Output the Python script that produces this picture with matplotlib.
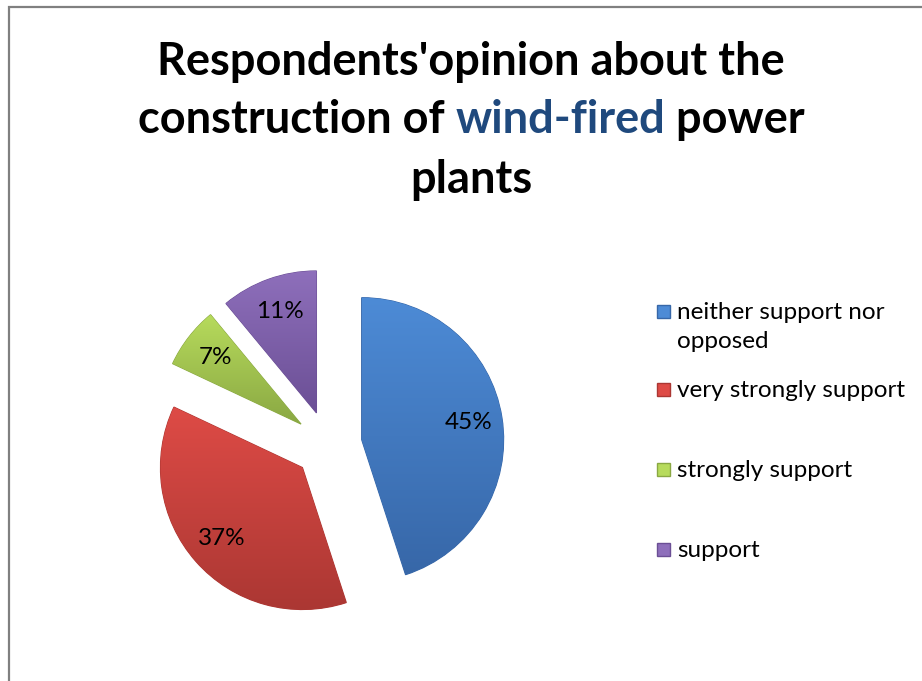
import numpy as np
import matplotlib
matplotlib.use("Agg")
import matplotlib.pyplot as plt
from matplotlib.patches import Rectangle
from matplotlib.colors import LinearSegmentedColormap

plt.rcParams['font.family'] = ['Lato', 'DejaVu Sans']

# Data
categories = ["neither support nor\nopposed", "very strongly support",
              "strongly support", "support"]
shares = [45, 37, 7, 11]
top_colors = ["#4d8bd6", "#de4b46", "#b7db5c", "#8e6fbb"]
bottom_colors = ["#3767a8", "#ab3733", "#8aa843", "#6b4f95"]

W, H = 922, 681
fig = plt.figure(figsize=(W / 100, H / 100), dpi=100)

# chart border
fig.add_artist(Rectangle((8.5 / W, -0.01), 1.02, 1 - 7.5 / H + 0.01,
                         transform=fig.transFigure, fill=False,
                         edgecolor="#808080", linewidth=1.6))

# pie axes: centre ~ (328, 445) px, radius ~142 px
cx, cy, r_px, half = 328, 445, 142, 200
ax = fig.add_axes([(cx - half) / W, (H - cy - half) / H, 2 * half / W, 2 * half / H])
lim = half / r_px
ax.set_xlim(-lim, lim)
ax.set_ylim(-lim, lim)
ax.set_aspect("equal")
ax.axis("off")

wedges, texts, autotexts = ax.pie(
    shares, startangle=90, counterclock=False, radius=1.0,
    explode=[0.24] * 4, autopct="%d%%", pctdistance=0.76,
    colors=top_colors, wedgeprops=dict(linewidth=0.8),
    textprops=dict(fontsize=17.5, color="black"))

# vertical gradient fill for each wedge
grad = np.linspace(1, 0, 256).reshape(-1, 1)
renderer = fig.canvas.get_renderer()
inv = ax.transData.inverted()
for w, c_top, c_bot in zip(wedges, top_colors, bottom_colors):
    w.set_edgecolor(c_bot)
    cmap = LinearSegmentedColormap.from_list("g", [c_bot, c_top])
    ext = w.get_window_extent(renderer)
    (dx0, dy0), (dx1, dy1) = inv.transform([[ext.x0, ext.y0], [ext.x1, ext.y1]])
    im = ax.imshow(grad, cmap=cmap, extent=[dx0, dx1, dy0, dy1],
                   aspect="auto", zorder=w.get_zorder() + 0.1)
    im.set_clip_path(w)
for t in autotexts:
    t.set_zorder(5)
ax.set_xlim(-lim, lim)
ax.set_ylim(-lim, lim)

# title with coloured word
title_kw = dict(fontsize=32.5, fontweight="bold", ha="center", va="center",
                transform=fig.transFigure)
fig.text(471 / W, 1 - 62 / H, "Respondents'opinion about the", **title_kw)
fig.text(471 / W, 1 - 180 / H, "plants", **title_kw)

parts = ["construction of ", "wind-fired", " power"]
part_colors = ["black", "#1f497d", "black"]
y2 = 1 - 120 / H
objs = [fig.text(0, y2, p, color=c, fontsize=32.5, fontweight="bold",
                 ha="left", va="center", transform=fig.transFigure)
        for p, c in zip(parts, part_colors)]
widths = [o.get_window_extent(renderer).width for o in objs]
x = 471 - sum(widths) / 2
for o, wd in zip(objs, widths):
    o.set_x(x / W)
    x += wd

# legend drawn by hand to mirror the spacing of the original
leg_y = [312, 390, 470, 550]
for lab, c_top, c_bot, yy in zip(categories, top_colors, bottom_colors, leg_y):
    fig.add_artist(Rectangle((657 / W, 1 - (yy + 6) / H), 13 / W, 13 / H,
                             transform=fig.transFigure, facecolor=c_top,
                             edgecolor=c_bot, linewidth=1))
    fig.text(677 / W, 1 - (yy - 10) / H, lab, fontsize=17.5, ha="left",
             va="top", linespacing=1.45, transform=fig.transFigure)

fig.savefig("out.png", dpi=100)
